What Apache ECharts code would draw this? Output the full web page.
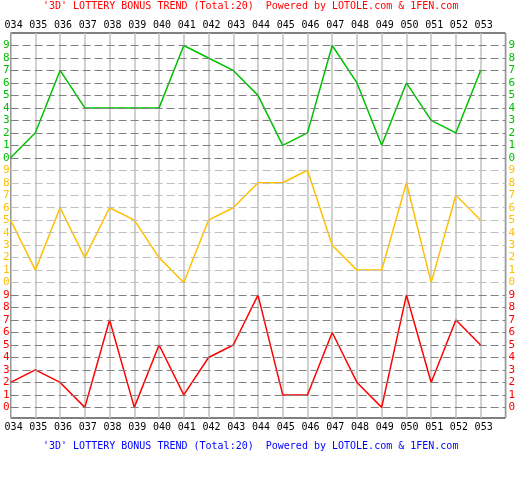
<!DOCTYPE html>
<html>
<head>
<meta charset="utf-8">
<script src="https://cdn.jsdelivr.net/npm/echarts@6/dist/echarts.min.js"></script>
<style>html,body{margin:0;padding:0;background:#fff;}#c{width:518px;height:500px;}</style>
</head>
<body>
<div id="c"></div>
<script>
const categories = ['034','035','036','037','038','039','040','041','042','043','044','045','046','047','048','049','050','051','052','053'];
const greenValues  = [0,2,7,4,4,4,4,9,8,7,5,1,2,9,6,1,6,3,2,7];
const orangeValues = [5,1,6,2,6,5,2,0,5,6,8,8,9,3,1,1,8,0,7,5];
const redValues    = [2,3,2,0,7,0,5,1,4,5,9,1,1,6,2,0,9,2,7,5];
const digitTicks = [0,1,2,3,4,5,6,7,8,9];
const titleText = "'3D' LOTTERY BONUS TREND (Total:20)  Powered by LOTOLE.com & 1FEN.com";

const GREEN = '#00c000', ORANGE = '#ffc000', RED = '#ff0000';
const bandColor = v => v >= 20 ? GREEN : (v >= 10 ? ORANGE : RED);
const tickValues = [];
[0,10,20].forEach(o => digitTicks.forEach(d => tickValues.push(o + d)));
const xCats = categories.concat(['']);
const FONT = 'DejaVu Sans Mono';

const chart = echarts.init(document.getElementById('c'), null, {renderer:'canvas'});
const yAxisBase = (pos, margin) => ({
  type: 'value', position: pos, min: -0.85, max: 30,
  axisLine: {show:false}, axisTick: {show:false, customValues: tickValues},
  axisLabel: {
    show: true, customValues: tickValues, margin: margin,
    fontFamily: FONT, fontSize: 11,
    formatter: v => String(Math.round(v) % 10),
    color: v => bandColor(Math.round(v))
  },
  splitLine: {show: false}
});
const yLeft = yAxisBase('left', 1);
const yRight = yAxisBase('right', 3);

const xAxisBase = (pos, margin) => ({
  type: 'category', position: pos, data: xCats, boundaryGap: false,
  axisLine: {show:false}, axisTick: {show:false},
  axisLabel: {show: true, interval: 0, margin: margin, fontFamily: FONT, fontSize: 10, color: '#000',
    padding: [0,0,0,6]},
  splitLine: {show: false}
});
const xBottom = xAxisBase('bottom', 4);
xBottom.splitLine = {show: true, interval: 0, lineStyle: {color: '#c0c0c0', width: 1.5}};
const xTop = xAxisBase('top', 3);

const mk = (name, vals, off, color) => ({
  name: name, type: 'line', xAxisIndex: 0, yAxisIndex: 0, z: 3,
  data: vals.map(v => v + off), symbol: 'none', animation: false,
  lineStyle: {color: color, width: 1.5}, itemStyle: {color: color}
});

const gridLineSeries = {
  name: 'grid', type: 'line', data: [], z: 1, silent: true, animation: false,
  markLine: {
    silent: true, symbol: ['none','none'], animation: false, label: {show: false},
    data: tickValues.map(v => ({
      yAxis: v,
      lineStyle: {color: (v >= 10 && v < 20) ? '#c0c0c0' : '#808080', type: [8,4], width: 1}
    }))
  }
};

chart.setOption({
  animation: false,
  backgroundColor: '#fff',
  grid: {left: 8, top: 33, width: 499, height: 385, show: true, borderColor: '#000', borderWidth: 1, backgroundColor: 'transparent', containLabel: false},
  xAxis: [xBottom, xTop],
  yAxis: [yLeft, yRight],
  title: [
    {text: titleText, left: 43, top: 1, padding: 0, textStyle: {fontFamily: FONT, fontSize: 10, fontWeight: 'normal', color: RED}},
    {text: titleText, left: 43, top: 441, padding: 0, textStyle: {fontFamily: FONT, fontSize: 10, fontWeight: 'normal', color: '#0000ff'}}
  ],
  series: [
    gridLineSeries,
    mk('green', greenValues, 20, GREEN),
    mk('orange', orangeValues, 10, ORANGE),
    mk('red', redValues, 0, RED)
  ]
});
</script>
</body>
</html>
